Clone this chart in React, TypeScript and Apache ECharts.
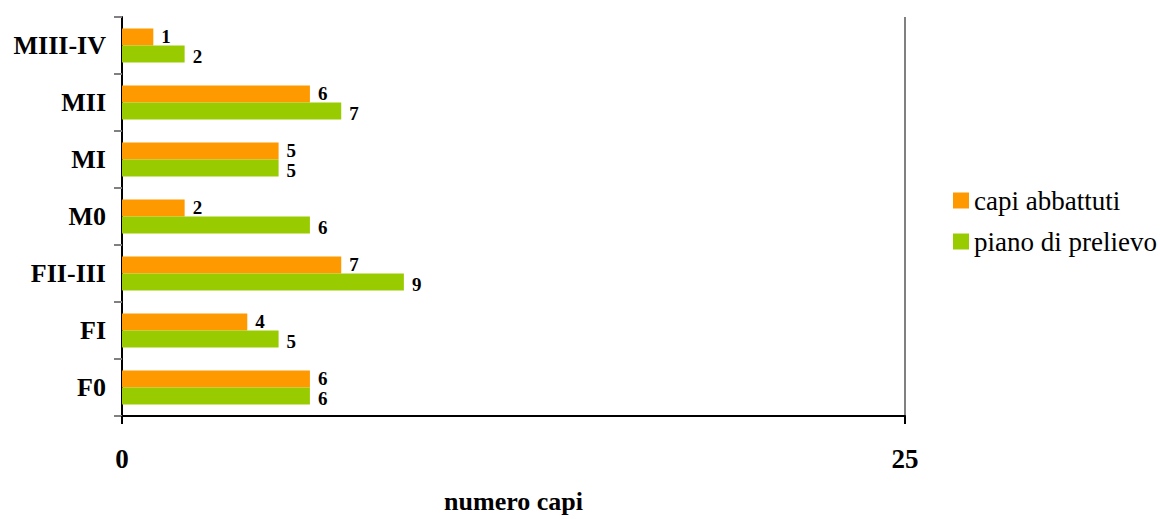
import React, { useEffect, useRef } from "react";
import * as echarts from "echarts";

const categories = ["MIII-IV", "MII", "MI", "M0", "FII-III", "FI", "F0"];
const capiAbbattuti = [1, 6, 5, 2, 7, 4, 6];
const pianoDiPrelievo = [2, 7, 5, 6, 9, 5, 6];
const seriesNames = ["capi abbattuti", "piano di prelievo"];
const xTicks = { min: 0, max: 25, interval: 25 };
const axisTitle = "numero capi";

const FONT = "Liberation Serif";

export default function App() {
  const ref = useRef<HTMLDivElement>(null);
  useEffect(() => {
    if (!ref.current) return;
    const chart = echarts.init(ref.current, undefined, { renderer: "svg" });
    const label = {
      show: true,
      position: "right" as const,
      distance: 8,
      color: "#000",
      fontFamily: FONT,
      fontWeight: "bold" as const,
      fontSize: 19,
      lineHeight: 19,
    };
    chart.setOption({
      animation: false,
      backgroundColor: "#fff",
      textStyle: { fontFamily: FONT },
      grid: { left: 122, width: 783, top: 17, height: 403, containLabel: false },
      legend: {
        orient: "vertical",
        left: 948,
        top: 182,
        itemWidth: 16,
        itemHeight: 16,
        itemGap: 14,
        icon: "rect",
        data: seriesNames,
        textStyle: { fontFamily: FONT, fontSize: 27, color: "#000" },
      },
      xAxis: {
        type: "value",
        min: xTicks.min,
        max: xTicks.max,
        interval: xTicks.interval,
        name: axisTitle,
        nameLocation: "middle",
        nameGap: 72,
        nameTextStyle: { fontFamily: FONT, fontWeight: "bold", fontSize: 26, color: "#000" },
        axisLine: { show: true, lineStyle: { color: "#000", width: 2 } },
        axisTick: { show: true, length: 8, lineStyle: { color: "#000", width: 2 } },
        axisLabel: { margin: 29, fontFamily: FONT, fontWeight: "bold", fontSize: 27, color: "#000" },
        splitLine: { show: true, lineStyle: { color: "#808080", width: 2 } },
      },
      yAxis: {
        type: "category",
        data: categories,
        inverse: true,
        axisLine: { show: true, lineStyle: { color: "#000", width: 2 } },
        axisTick: { show: true, length: 8, lineStyle: { color: "#808080", width: 2 } },
        axisLabel: { margin: 16, fontFamily: FONT, fontWeight: "bold", fontSize: 26, color: "#000" },
        splitLine: { show: false },
      },
      series: [
        {
          name: seriesNames[0],
          type: "bar",
          data: capiAbbattuti,
          barWidth: 17,
          barGap: "0%",
          itemStyle: { color: "#FF9900" },
          label: { ...label, offset: [0, -1] },
        },
        {
          name: seriesNames[1],
          type: "bar",
          data: pianoDiPrelievo,
          barWidth: 17,
          barGap: "0%",
          itemStyle: { color: "#99CC00" },
          label: { ...label, offset: [0, 2] },
        },
      ],
    });
    return () => chart.dispose();
  }, []);
  return (
    <div
      ref={ref}
      style={{ position: "fixed", left: 0, top: 0, width: 1160, height: 519 }}
    />
  );
}
